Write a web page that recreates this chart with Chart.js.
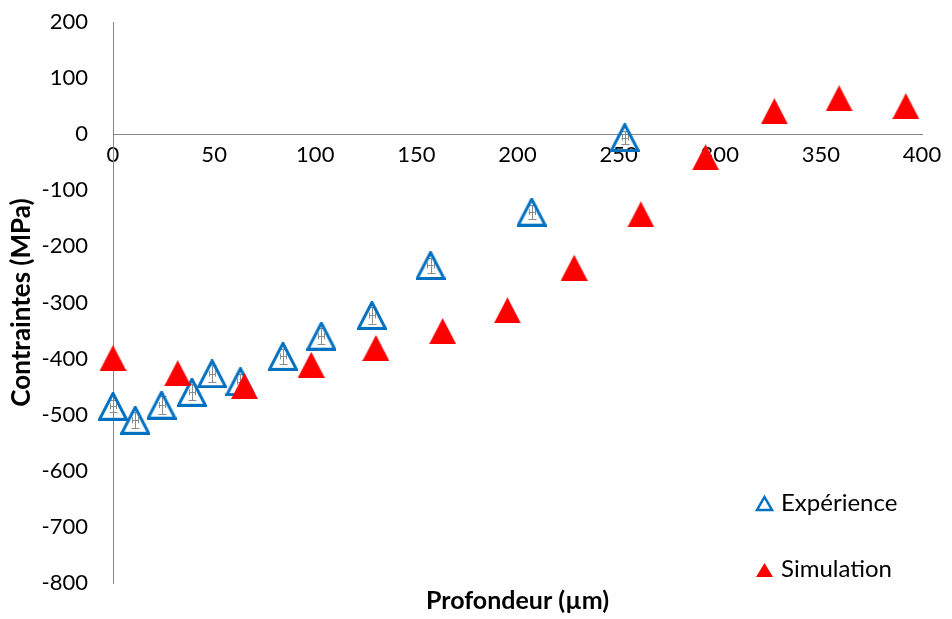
<!DOCTYPE html>
<html>
<head>
<meta charset="utf-8">
<script src="https://cdn.jsdelivr.net/npm/chart.js@4.4.1/dist/chart.umd.min.js"></script>
<style>
  html, body { margin: 0; padding: 0; background: #fff; }
  #wrap { width: 952px; height: 619px; }
</style>
</head>
<body>
<div id="wrap"><canvas id="scatter" width="952" height="619"></canvas></div>
<script>
// profondeur (µm) / contraintes (MPa)
const expX = [0, 11, 24, 39, 49, 63, 84, 103, 128, 157, 207, 253];
const expY = [-485, -510, -483, -460, -427, -441, -396, -360, -323, -234, -139, -6];
const expErrY = [11, 14, 16, 14, 15, 14, 14, 14, 15, 14, 13, 12];
const expErrX = [1.5, 1.5, 1.5, 1.5, 1.5, 1.5, 1.5, 1.5, 1.5, 1.5, 1.5, 1.5];

const simX = [0, 32, 65, 98, 130, 163, 195, 228, 261, 293, 327, 359, 392];
const simY = [-399, -426, -449, -411, -381, -351, -314, -238, -143, -41, 41, 64, 50];

const yTicks = [-800, -700, -600, -500, -400, -300, -200, -100, 0, 100, 200];
const xTicks = [0, 50, 100, 150, 200, 250, 300, 350, 400];

const BLUE = '#0070C0';
const RED = '#FF0000';
const AXIS = '#868686';
const FONT = 'Lato';

// triangle markers centred on their bounding box, like Excel
function triangleMarker(w, h, fill, stroke, lw) {
    const c = document.createElement('canvas');
    c.width = w; c.height = h;
    const g = c.getContext('2d');
    const m = lw ? lw / 2 : 0;
    g.beginPath();
    g.moveTo(w / 2, m);
    g.lineTo(w - m, h - m);
    g.lineTo(m, h - m);
    g.closePath();
    if (fill) { g.fillStyle = fill; g.fill(); }
    if (stroke) { g.strokeStyle = stroke; g.lineWidth = lw; g.lineJoin = 'miter'; g.stroke(); }
    return c;
}

const expMarker = triangleMarker(30, 29, null, BLUE, 3);
const simMarker = triangleMarker(27, 26, RED, null, 0);

const errorBars = {
    id: 'errorBars',
    beforeDatasetsDraw(chart) {
        const xs = chart.scales.x, ys = chart.scales.y;
        const c = chart.ctx;
        c.save();
        c.strokeStyle = '#8c8c8c';
        c.lineWidth = 1;
        for (let i = 0; i < expX.length; i++) {
            const px = Math.round(xs.getPixelForValue(expX[i])) + 0.5;
            const py = ys.getPixelForValue(expY[i]);
            const top = ys.getPixelForValue(expY[i] + expErrY[i]);
            const bot = ys.getPixelForValue(expY[i] - expErrY[i]);
            const l = xs.getPixelForValue(expX[i] - expErrX[i]);
            const r = xs.getPixelForValue(expX[i] + expErrX[i]);
            c.beginPath();
            c.moveTo(px, top); c.lineTo(px, bot);
            c.moveTo(px - 4, Math.round(top) + 0.5); c.lineTo(px + 4, Math.round(top) + 0.5);
            c.moveTo(px - 4, Math.round(bot) + 0.5); c.lineTo(px + 4, Math.round(bot) + 0.5);
            c.moveTo(l, Math.round(py) + 0.5); c.lineTo(r, Math.round(py) + 0.5);
            c.moveTo(Math.round(l) + 0.5, py - 3); c.lineTo(Math.round(l) + 0.5, py + 3);
            c.moveTo(Math.round(r) + 0.5, py - 3); c.lineTo(Math.round(r) + 0.5, py + 3);
            c.stroke();
        }
        c.restore();
    }
};

const sideLegend = {
    id: 'sideLegend',
    afterDraw(chart) {
        const c = chart.ctx;
        c.save();
        c.font = '24px ' + FONT;
        c.fillStyle = '#000';
        c.textBaseline = 'middle';
        // Expérience
        c.beginPath();
        c.moveTo(764.5, 497); c.lineTo(772, 510); c.lineTo(757, 510); c.closePath();
        c.strokeStyle = BLUE; c.lineWidth = 2.5; c.stroke();
        c.fillText('Expérience', 781, 503);
        // Simulation
        c.beginPath();
        c.moveTo(764.5, 563); c.lineTo(773, 577); c.lineTo(756, 577); c.closePath();
        c.fillStyle = RED; c.fill();
        c.fillStyle = '#000';
        c.fillText('Simulation', 781, 569);
        c.restore();
    }
};

const ctx = document.getElementById('scatter').getContext('2d');
const chart = new Chart(ctx, {
    type: 'scatter',
    data: {
        datasets: [
            {
                label: 'Simulation',
                data: simX.map((x, i) => ({ x: x, y: simY[i] })),
                pointStyle: simMarker,
                pointRadius: 13,
                pointHoverRadius: 13,
                clip: false
            },
            {
                label: 'Expérience',
                data: expX.map((x, i) => ({ x: x, y: expY[i] })),
                pointStyle: expMarker,
                pointRadius: 15,
                pointHoverRadius: 15,
                clip: false
            }
        ]
    },
    options: {
        responsive: false,
        animation: false,
        events: [],
        layout: { padding: { left: 0, right: 30, top: 22, bottom: 0 } },
        plugins: {
            legend: { display: false },
            tooltip: { enabled: false }
        },
        scales: {
            x: {
                type: 'linear',
                position: { y: 0 },
                min: 0,
                max: 400,
                afterBuildTicks: (s) => { s.ticks = xTicks.map(v => ({ value: v })); },
                grid: { display: false, drawTicks: false },
                border: { display: true, color: AXIS, width: 1 },
                ticks: { color: '#000', font: { family: FONT, size: 22 }, padding: 8, maxRotation: 0 }
            },
            xTitle: {
                type: 'linear',
                axis: 'x',
                position: 'bottom',
                min: 0,
                max: 400,
                afterFit: (s) => { s.height = 36; },
                grid: { display: false, drawTicks: false },
                border: { display: false },
                ticks: { display: false },
                title: {
                    display: true,
                    text: 'Profondeur (µm)',
                    color: '#000',
                    font: { family: FONT, size: 25, weight: 'bold' },
                    padding: { top: 4, bottom: 3 }
                }
            },
            y: {
                type: 'linear',
                position: 'left',
                min: -800,
                max: 200,
                afterBuildTicks: (s) => { s.ticks = yTicks.map(v => ({ value: v })); },
                afterFit: (s) => { s.width = 113; s.paddingTop = 0; s.paddingBottom = 0; },
                grid: { display: false, drawTicks: false },
                border: { display: true, color: AXIS, width: 1 },
                ticks: { color: '#000', font: { family: FONT, size: 22 }, padding: 25 },
                title: {
                    display: true,
                    text: 'Contraintes (MPa)',
                    color: '#000',
                    font: { family: FONT, size: 26, weight: 'bold' },
                    padding: { top: 6, bottom: 4 }
                }
            }
        }
    },
    plugins: [errorBars, sideLegend]
});
</script>
</body>
</html>
